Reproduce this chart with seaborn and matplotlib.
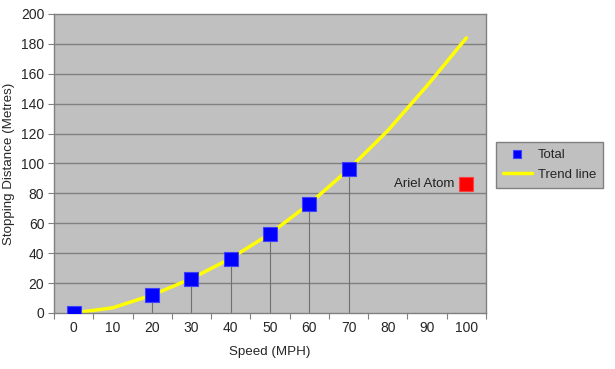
import matplotlib
matplotlib.use("Agg")
import matplotlib.pyplot as plt
import seaborn as sns
import pandas as pd
from matplotlib.ticker import FixedLocator

# dados
velocidades = [0, 20, 30, 40, 50, 60, 70]
distancias = [0, 12, 23, 36, 53, 73, 96]

trend_vel = [0, 10, 20, 30, 40, 50, 60, 70, 80, 90, 100]
trend_dist = [0, 3.5, 12, 23, 36.5, 53, 73, 96, 122, 152, 184]

ariel_vel = [100]
ariel_dist = [86]
ariel_label = "Ariel Atom"

x_ticks = [0, 10, 20, 30, 40, 50, 60, 70, 80, 90, 100]
y_ticks = [0, 20, 40, 60, 80, 100, 120, 140, 160, 180, 200]

df_total = pd.DataFrame({"speed": velocidades, "dist": distancias})
df_trend = pd.DataFrame({"speed": trend_vel, "dist": trend_dist})

sns.set_theme(style="white")
plt.rcParams["font.family"] = ["Liberation Sans", "DejaVu Sans"]

fig = plt.figure(figsize=(6.15, 3.69), dpi=100)
ax = fig.add_axes([0.0878, 0.1518, 0.7024, 0.8103])
ax.set_facecolor("#C0C0C0")

# grade horizontal
for y in y_ticks[1:-1]:
    ax.axhline(y, color="#808080", lw=1, zorder=0)

# linhas de queda dos pontos até o eixo
ax.vlines(df_total["speed"], 0, df_total["dist"], color="#707070", lw=0.8, zorder=1)

sns.lineplot(data=df_trend, x="speed", y="dist", color="#FFFF00", lw=2.5,
             ax=ax, zorder=2, label="Trend line")
sns.scatterplot(data=df_total, x="speed", y="dist", marker="s", s=110,
                color="#0000FF", edgecolor="#4040FF", linewidth=0.8,
                ax=ax, zorder=3, label="Total")
ax.scatter(ariel_vel, ariel_dist, marker="s", s=95, color="#FF0000",
           edgecolor="#FF4040", linewidth=0.8, zorder=3)
ax.text(ariel_vel[0] - 3, ariel_dist[0], ariel_label, ha="right", va="center",
        fontsize=9.5, color="#202020")

ax.set_xlim(-5, 105)
ax.set_ylim(0, 200)
ax.set_xticks(x_ticks)
ax.set_xticklabels([str(v) for v in x_ticks])
ax.xaxis.set_minor_locator(FixedLocator([v - 5 for v in x_ticks] + [105]))
ax.tick_params(axis="x", which="major", length=0, pad=6, labelsize=10)
ax.tick_params(axis="x", which="minor", length=4, width=0.8, color="#808080",
               direction="out", bottom=True)
ax.set_yticks(y_ticks)
ax.tick_params(axis="y", length=4, width=0.8, color="#808080", direction="out",
               left=True, labelsize=10, pad=3)

for s in ax.spines.values():
    s.set_color("#808080")
    s.set_linewidth(1)

ax.set_xlabel("Speed (MPH)", fontsize=9.6, labelpad=8)
ax.set_ylabel("Stopping Distance (Metres)", fontsize=9.6, labelpad=4)

handles, labels = ax.get_legend_handles_labels()
ordem = [labels.index("Total"), labels.index("Trend line")]
ax.get_legend().remove()
leg = fig.legend([handles[i] for i in ordem], [labels[i] for i in ordem],
                 loc="upper left", bbox_to_anchor=(0.8065, 0.615),
                 borderaxespad=0, fontsize=9.5, frameon=True, fancybox=False,
                 borderpad=0.5, handlelength=2.2, handletextpad=0.5,
                 labelspacing=0.6, markerscale=0.6)
leg.get_frame().set_facecolor("#C0C0C0")
leg.get_frame().set_edgecolor("#808080")
leg.get_frame().set_alpha(1)

plt.savefig("out.png", dpi=100)
plt.close()
